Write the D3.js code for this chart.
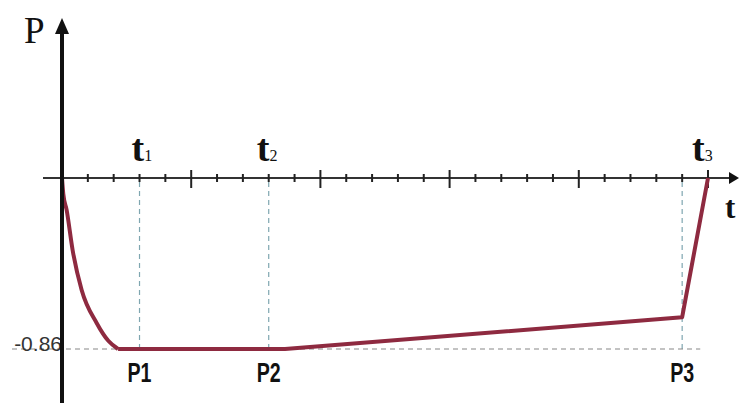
<!DOCTYPE html>
<html>
<head>
<meta charset="utf-8">
<script src="https://cdn.jsdelivr.net/npm/d3@7"></script>
<style>
  body { margin: 0; background: #fff; }
  svg { display: block; }
  .serif { font-family: "Liberation Serif", "Times New Roman", Times, serif; }
  .narrow { font-family: "Liberation Sans Narrow", "Arial Narrow", "Liberation Sans", Arial, sans-serif; font-stretch: condensed; }
  .sans { font-family: "Liberation Sans", Arial, Helvetica, sans-serif; }
</style>
</head>
<body>
<script>
// decay part of the curve (t in tick units, P value)
var decayT = [0, 0.05, 0.18, 0.41, 0.76, 1.34, 1.8, 2.17];
var decayP = [0, -0.08, -0.161, -0.362, -0.563, -0.729, -0.82, -0.86];
// straight part after the minimum
var lineT = [2.17, 8.63, 24, 25];
var lineP = [-0.86, -0.86, -0.70, 0];

var tickVals = d3.range(1, 26);
var tNames = ["1", "2", "3"];
var tPos = [3, 8, 25];
var pNames = ["P1", "P2", "P3"];
var pPos = [3, 8, 24];
var minP = -0.86;

var width = 739, height = 403;
var x0 = 62, y0 = 178;
var tOff = [-8, -12, -16];

var x = d3.scaleLinear().domain([0, 25]).range([x0, 708]);
var y = d3.scaleLinear().domain([minP, 0]).range([349, y0]);

var svg = d3.select("body").append("svg")
    .attr("width", width)
    .attr("height", height);

// guide lines
svg.selectAll(".vguide")
  .data([3, 8, 24])
  .enter().append("line")
    .attr("x1", function(d) { return x(d); })
    .attr("x2", function(d) { return x(d); })
    .attr("y1", y(0) + 4)
    .attr("y2", y(minP))
    .attr("stroke", "#7fa6b0")
    .attr("stroke-width", 1.2)
    .attr("stroke-dasharray", "5,4");

svg.append("line")
    .attr("x1", 12)
    .attr("x2", x(24.7))
    .attr("y1", y(minP))
    .attr("y2", y(minP))
    .attr("stroke", "#888")
    .attr("stroke-width", 1.2)
    .attr("stroke-dasharray", "5,4");

// x axis
svg.append("line")
    .attr("x1", 43).attr("x2", 733)
    .attr("y1", y0).attr("y2", y0)
    .attr("stroke", "#333")
    .attr("stroke-width", 2);
svg.append("path")
    .attr("d", "M739," + y0 + "L729," + (y0 - 6) + "L729," + (y0 + 6) + "Z")
    .attr("fill", "#111");

svg.selectAll(".tick")
  .data(tickVals)
  .enter().append("line")
    .attr("x1", function(d) { return x(d); })
    .attr("x2", function(d) { return x(d); })
    .attr("y1", function(d) { return d % 5 == 0 ? y0 - 8 : y0 - 4; })
    .attr("y2", function(d) { return d % 5 == 0 ? y0 + 10 : y0 + 4; })
    .attr("stroke", "#222")
    .attr("stroke-width", 2);

// curve
svg.append("path")
    .datum(d3.zip(decayT, decayP))
    .attr("d", d3.line()
        .x(function(d) { return x(d[0]); })
        .y(function(d) { return y(d[1]); })
        .curve(d3.curveMonotoneX))
    .attr("fill", "none")
    .attr("stroke", "#8e2a40")
    .attr("stroke-width", 4);

svg.append("path")
    .datum(d3.zip(lineT, lineP))
    .attr("d", d3.line()
        .x(function(d) { return x(d[0]); })
        .y(function(d) { return y(d[1]); }))
    .attr("fill", "none")
    .attr("stroke", "#8e2a40")
    .attr("stroke-width", 4)
    .attr("stroke-linejoin", "round");

// -0.86 label sits under the y axis
svg.append("text")
    .text(minP.toFixed(2))
    .attr("class", "sans")
    .attr("x", 62)
    .attr("y", 351)
    .attr("text-anchor", "end")
    .attr("font-size", 21)
    .attr("fill", "#333");

// y axis
svg.append("line")
    .attr("x1", x0).attr("x2", x0)
    .attr("y1", 30).attr("y2", height)
    .attr("stroke", "#111")
    .attr("stroke-width", 4);
svg.append("path")
    .attr("d", "M" + x0 + ",18L" + (x0 - 7) + ",34L" + (x0 + 7) + ",34Z")
    .attr("fill", "#111");

// texts
svg.append("text")
    .text("P")
    .attr("class", "serif")
    .attr("x", 24)
    .attr("y", 43)
    .attr("font-size", 37)
    .attr("fill", "#111");

svg.append("text")
    .text("t")
    .attr("class", "serif")
    .attr("x", 725)
    .attr("y", 218)
    .attr("font-weight", "bold")
    .attr("font-size", 31)
    .attr("fill", "#111");

var tl = svg.selectAll(".tl")
  .data(tNames)
  .enter().append("text")
    .attr("class", "serif")
    .attr("x", function(d, i) { return x(tPos[i]) + tOff[i]; })
    .attr("y", 161)
    .attr("font-weight", "bold")
    .attr("fill", "#111");
tl.append("tspan").text("t").attr("font-size", 38);
tl.append("tspan").text(function(d) { return d; })
    .attr("font-size", 16).attr("font-weight", "normal");

svg.selectAll(".pl")
  .data(pNames)
  .enter().append("text")
    .text(function(d) { return d; })
    .attr("class", "narrow")
    .attr("x", function(d, i) { return x(pPos[i]) - 12; })
    .attr("y", 382)
    .attr("font-weight", "bold")
    .attr("font-size", 27)
    .attr("textLength", 24)
    .attr("lengthAdjust", "spacingAndGlyphs")
    .attr("fill", "#111");
</script>
</body>
</html>
